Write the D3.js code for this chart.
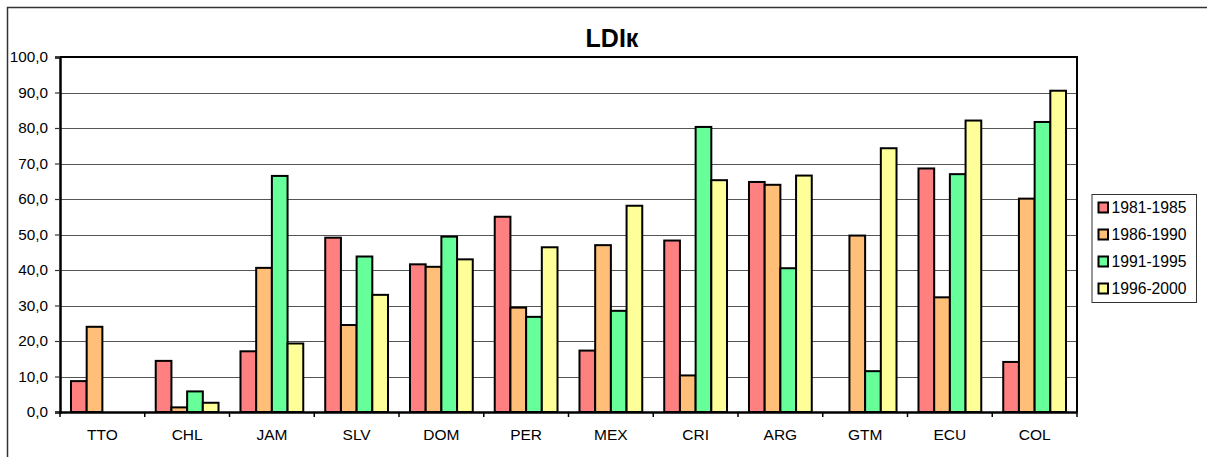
<!DOCTYPE html>
<html>
<head>
<meta charset="utf-8">
<script src="https://cdn.jsdelivr.net/npm/d3@7"></script>
<style>
  html, body { margin: 0; padding: 0; background: #fff; }
  svg { display: block; font-family: Arial, "Liberation Sans", sans-serif; }
</style>
</head>
<body>
<svg id="chart" width="1207" height="457"></svg>
<script>
const categories = ["TTO","CHL","JAM","SLV","DOM","PER","MEX","CRI","ARG","GTM","ECU","COL"];
const seriesNames = ["1981-1985","1986-1990","1991-1995","1996-2000"];
const s1981 = [8.7, 14.4, 17.1, 49.1, 41.6, 55.0, 17.3, 48.3, 64.8, 0, 68.6, 14.1];
const s1986 = [24.0, 1.3, 40.6, 24.5, 40.9, 29.4, 47.0, 10.3, 64.0, 49.7, 32.3, 60.1];
const s1991 = [0, 5.8, 66.5, 43.8, 49.4, 26.8, 28.5, 80.3, 40.5, 11.5, 67.0, 81.7];
const s1996 = [0, 2.6, 19.3, 33.0, 43.0, 46.4, 58.1, 65.3, 66.6, 74.3, 82.1, 90.5];
const yTicks = [0,10,20,30,40,50,60,70,80,90,100];
const title = "LDIк";

const seriesValues = [s1981, s1986, s1991, s1996];
const colors = ["#FF8080", "#FFBF78", "#66FF99", "#FFFF99"];
const FONT = "Arial, 'Liberation Sans', sans-serif";

const svg = d3.select("#chart");
const pLeft = 60, pRight = 1077, pTop = 57, pBottom = 412;

// outer chart border
svg.append("rect").attr("x", 7.5).attr("y", 7.5).attr("width", 1220).attr("height", 470)
  .attr("fill", "#fff").attr("stroke", "#333").attr("stroke-width", 1.5);

const x = d3.scaleBand().domain(categories).range([pLeft, pRight]).paddingInner(0).paddingOuter(0);
const xs = d3.scaleBand().domain(seriesNames).range([0, x.bandwidth()]).paddingInner(0).paddingOuter(0.7);
const y = d3.scaleLinear().domain([0, 100]).range([pBottom, pTop]);

// gridlines
svg.append("g").selectAll("line").data(yTicks.filter(d => d > 0 && d < 100)).join("line")
  .attr("x1", pLeft).attr("x2", pRight)
  .attr("y1", d => Math.round(y(d)) + 0.5).attr("y2", d => Math.round(y(d)) + 0.5)
  .attr("stroke", "#555").attr("stroke-width", 1);

// frame top & right
svg.append("path")
  .attr("d", `M${pLeft},${pTop}H${pRight}V${pBottom}`)
  .attr("fill", "none").attr("stroke", "#000").attr("stroke-width", 2);

// bars
const data = [];
categories.forEach((c, i) => seriesNames.forEach((s, j) => data.push({c, s, j, v: seriesValues[j][i]})));
svg.append("g").selectAll("rect").data(data.filter(d => d.v > 0)).join("rect")
  .attr("x", d => x(d.c) + xs(d.s))
  .attr("y", d => y(d.v))
  .attr("width", xs.bandwidth())
  .attr("height", d => y(0) - y(d.v))
  .attr("fill", d => colors[d.j])
  .attr("stroke", "#000").attr("stroke-width", 2);

// y axis
const yAxis = d3.axisLeft(y).tickValues(yTicks).tickSize(5).tickPadding(7)
  .tickFormat(d => d3.format(".1f")(d).replace(".", ","));
const gy = svg.append("g").attr("transform", `translate(${pLeft},0)`).call(yAxis);
gy.select(".domain").attr("stroke", "#000").attr("stroke-width", 2.5);
gy.selectAll(".tick line").attr("stroke", "#333").attr("stroke-width", 1.2);
gy.selectAll("text").attr("font-size", 15.3).attr("fill", "#000").attr("font-family", FONT);

// x axis
const xAxis = d3.axisBottom(x).tickSize(0).tickPadding(17);
const gx = svg.append("g").attr("transform", `translate(0,${pBottom})`).call(xAxis);
gx.select(".domain").attr("stroke", "#000").attr("stroke-width", 2.5);
gx.selectAll("text").attr("font-size", 15.5).attr("fill", "#000").attr("font-family", FONT);
// category boundary ticks
const bounds = categories.map(c => x(c)).concat([pRight]);
svg.append("g").selectAll("line").data(bounds).join("line")
  .attr("x1", d => d).attr("x2", d => d)
  .attr("y1", pBottom).attr("y2", pBottom + 5)
  .attr("stroke", "#000").attr("stroke-width", 1.5);

// title
svg.append("text").attr("x", 612).attr("y", 47).attr("text-anchor", "middle")
  .attr("font-size", 25).attr("font-weight", "bold").attr("font-family", FONT).text(title);

// legend
const lg = svg.append("g");
lg.append("rect").attr("x", 1092).attr("y", 194.5).attr("width", 104.5).attr("height", 108)
  .attr("fill", "#fff").attr("stroke", "#333").attr("stroke-width", 1);
const rows = lg.selectAll("g.row").data(seriesNames).join("g").attr("class", "row")
  .attr("transform", (d, i) => `translate(0,${207.5 + i * 27})`);
rows.append("rect").attr("x", 1098.5).attr("y", -5).attr("width", 9.5).attr("height", 10)
  .attr("fill", (d, i) => colors[i]).attr("stroke", "#000").attr("stroke-width", 2);
rows.append("text").attr("x", 1111.5).attr("y", 5.5).attr("font-size", 15.7)
  .attr("font-family", FONT).text(d => d);
</script>
</body>
</html>
